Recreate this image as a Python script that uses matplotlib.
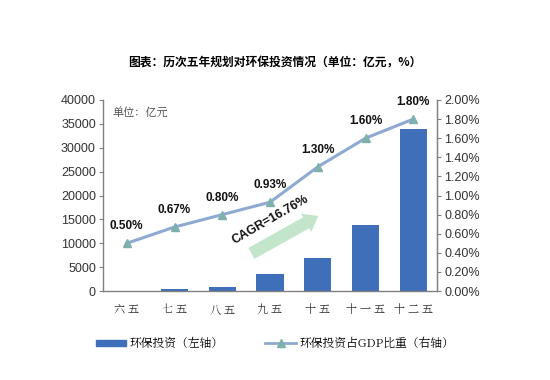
import matplotlib
matplotlib.use("Agg")
import matplotlib.pyplot as plt
from matplotlib.patches import Rectangle
from matplotlib.lines import Line2D

plt.rcParams['font.family'] = ['Noto Sans CJK SC', 'DejaVu Sans']

categories = ['六五', '七五', '八五', '九五', '十五', '十一五', '十二五']
invest = [60, 480, 850, 3500, 7000, 13750, 34000]
gdp_ratio = [0.50, 0.67, 0.80, 0.93, 1.30, 1.60, 1.80]
ratio_labels = ['0.50%', '0.67%', '0.80%', '0.93%', '1.30%', '1.60%', '1.80%']
left_ticks = [0, 5000, 10000, 15000, 20000, 25000, 30000, 35000, 40000]
right_ticks = [0, 0.2, 0.4, 0.6, 0.8, 1.0, 1.2, 1.4, 1.6, 1.8, 2.0]

bar_color = '#3F6FB8'
line_color = '#8EA9D2'
marker_color = '#7FB0AE'
grey = '#808080'

fig = plt.figure(figsize=(5.5, 3.8), dpi=100)
ax = fig.add_axes([0.187, 0.234, 0.608, 0.503])
x = list(range(len(categories)))
ax.bar(x, invest, width=0.57, color=bar_color, zorder=2)
ax.set_xlim(-0.5, len(categories) - 0.5)
ax.set_ylim(0, 40000)
ax.set_yticks(left_ticks)
ax.set_yticklabels([str(t) for t in left_ticks], fontsize=9, color='#333333',
                   family=['Liberation Sans', 'DejaVu Sans'])
ax.set_xticks(x)
ax.set_xticklabels([' '.join(c) for c in categories], fontsize=8, color='#333333',
                   family=['Noto Serif CJK SC', 'Noto Sans CJK SC'])
ax.tick_params(axis='x', length=0, pad=9)
ax.tick_params(axis='y', length=3, color=grey, pad=2)
ax.spines['top'].set_visible(False)
for s in ['left', 'bottom', 'right']:
    ax.spines[s].set_color(grey)
    ax.spines[s].set_linewidth(1.0)

ax.text(0.03, 0.93, '单位：亿元', transform=ax.transAxes, fontsize=8, color='#444444',
        va='center', ha='left', family=['Noto Serif CJK SC', 'Noto Sans CJK SC'])

ax2 = ax.twinx()
ax2.set_ylim(0, 2.0)
ax2.set_yticks(right_ticks)
ax2.set_yticklabels(['%.2f%%' % t for t in right_ticks], fontsize=9, color='#333333',
                    family=['Liberation Sans', 'DejaVu Sans'])
ax2.tick_params(axis='y', length=3, color=grey, pad=2)
for s in ['top', 'left', 'bottom']:
    ax2.spines[s].set_visible(False)
ax2.spines['right'].set_color(grey)

# CAGR arrow and text
ax2.annotate('', xy=(4.06, 0.80), xytext=(2.56, 0.38),
             arrowprops=dict(arrowstyle='simple,head_width=1.5,head_length=1.0,tail_width=0.9',
                             color='#C3E5CB', lw=0), zorder=1)
ax2.text(3.0, 0.75, 'CAGR=16.76%', rotation=30, ha='center', va='center',
         fontsize=9, fontweight='bold', family=['Liberation Sans', 'DejaVu Sans'],
         color='#111111', zorder=4)

ax2.plot(x, gdp_ratio, color=line_color, lw=2.2, marker='^', markersize=6,
         markerfacecolor=marker_color, markeredgecolor=marker_color, zorder=3)
for xi, v, lab in zip(x, gdp_ratio, ratio_labels):
    ax2.annotate(lab, (xi, v), xytext=(0, 8), textcoords='offset points',
                 ha='center', va='bottom', fontsize=8.5, fontweight='bold',
                 family=['Liberation Sans', 'DejaVu Sans'], color='#111111')

fig.text(0.5, 0.837, '图表：历次五年规划对环保投资情况（单位：亿元，%）', ha='center', va='center',
         fontsize=8.5, fontweight='bold')

# legend
handles = [Rectangle((0, 0), 1, 1, color=bar_color),
           Line2D([0], [0], color=line_color, lw=2, marker='^', markersize=6,
                  markerfacecolor=marker_color, markeredgecolor=marker_color)]
fig.legend(handles, ['环保投资（左轴）', '环保投资占GDP比重（右轴）'], loc='center',
           bbox_to_anchor=(0.5, 0.095), ncol=2, frameon=False,
           handlelength=2.6, handleheight=0.45, handletextpad=0.3, columnspacing=3.5,
           prop={'family': ['Noto Serif CJK SC', 'Noto Sans CJK SC'], 'size': 8.5})

fig.savefig('out.png', dpi=100, facecolor='white')
